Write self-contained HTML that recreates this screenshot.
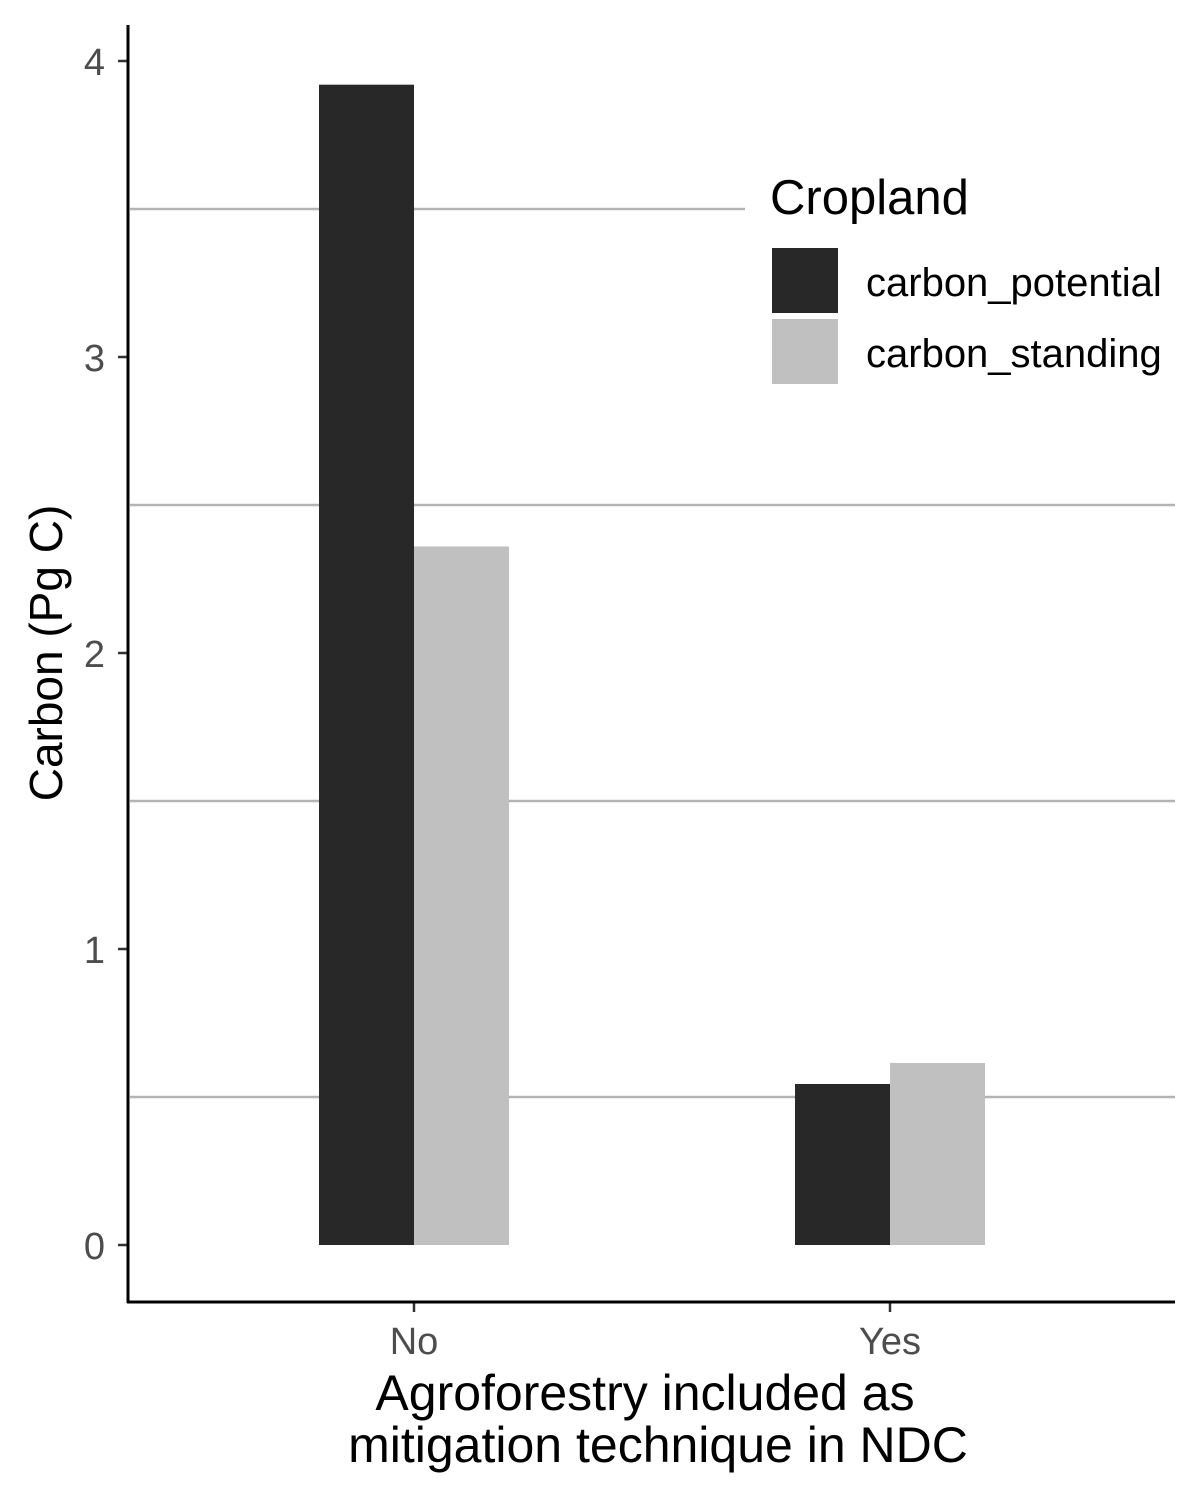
<!DOCTYPE html>
<html><head><meta charset="utf-8"><style>
body{margin:0;background:#fff}
svg{display:block;font-family:"Liberation Sans",Arial,sans-serif}
</style></head><body>
<svg id="chart" width="1200" height="1500" viewBox="0 0 1200 1500">
<g id="grid"></g>
<g id="bars"></g>
<rect x="745" y="160" width="430" height="235" fill="#fff"/>
<g id="axes"></g>
<text x="0" y="0" transform="translate(62,653) rotate(-90)" text-anchor="middle" font-size="46" fill="#000">Carbon (Pg C)</text>
<text x="645" y="1410" text-anchor="middle" font-size="50" fill="#000">Agroforestry included as</text>
<text x="658" y="1462" text-anchor="middle" font-size="50" fill="#000">mitigation technique in NDC</text>
<g>
<text x="770" y="214" font-size="49" fill="#000">Cropland</text>
<rect x="772" y="248" width="66" height="65" fill="#282828"/>
<text x="866" y="296" font-size="40" fill="#000">carbon_potential</text>
<rect x="772" y="319" width="66" height="65" fill="#c0c0c0"/>
<text x="866" y="367" font-size="40" fill="#000">carbon_standing</text>
</g>
</svg>
<script>
const categories = ["No", "Yes"];
const potential = [3.92, 0.544];
const standing = [2.36, 0.615];
const yTicks = [0, 1, 2, 3, 4];
const yGrid = [0.5, 1.5, 2.5, 3.5];

const NS = "http://www.w3.org/2000/svg";
const y = v => 1245 - v * 296;
const x = i => 414 + i * 476;
const barW = 95;
function mk(tag, attrs, parent){const e=document.createElementNS(NS,tag);for(const k in attrs)e.setAttribute(k,attrs[k]);parent.appendChild(e);return e;}
const grid=document.getElementById('grid'), bars=document.getElementById('bars'), axes=document.getElementById('axes');
yGrid.forEach(v=>{
  const l=mk('line',{x1:130,x2:1175,y1:y(v),y2:y(v),stroke:'#b3b3b3','stroke-width':2.5},grid);
  
  
});
categories.forEach((c,i)=>{
  const r1=mk('rect',{x:x(i)-barW,y:y(potential[i]),width:barW,height:y(0)-y(potential[i]),fill:'#282828'},bars);
  
  
  const r2=mk('rect',{x:x(i),y:y(standing[i]),width:barW,height:y(0)-y(standing[i]),fill:'#c0c0c0'},bars);
  
  
  const t=mk('line',{x1:x(i),x2:x(i),y1:1302,y2:1312,stroke:'#333','stroke-width':2.5},axes);
  
  
  const lb=mk('text',{x:x(i),y:1354,'text-anchor':'middle','font-size':38,fill:'#4d4d4d'},axes);
  lb.textContent=c;
  
  
});
yTicks.forEach(v=>{
  const t=mk('line',{x1:118,x2:128,y1:y(v),y2:y(v),stroke:'#333','stroke-width':2.5},axes);
  
  
  const lb=mk('text',{x:105,y:y(v)+14,'text-anchor':'end','font-size':38,fill:'#4d4d4d'},axes);
  lb.textContent=v;
  
  
});
const ya=mk('line',{x1:128,x2:128,y1:25,y2:1303,stroke:'#000','stroke-width':3},axes);


const xa=mk('line',{x1:127,x2:1175,y1:1302,y2:1302,stroke:'#000','stroke-width':3},axes);


</script>
</body></html>
